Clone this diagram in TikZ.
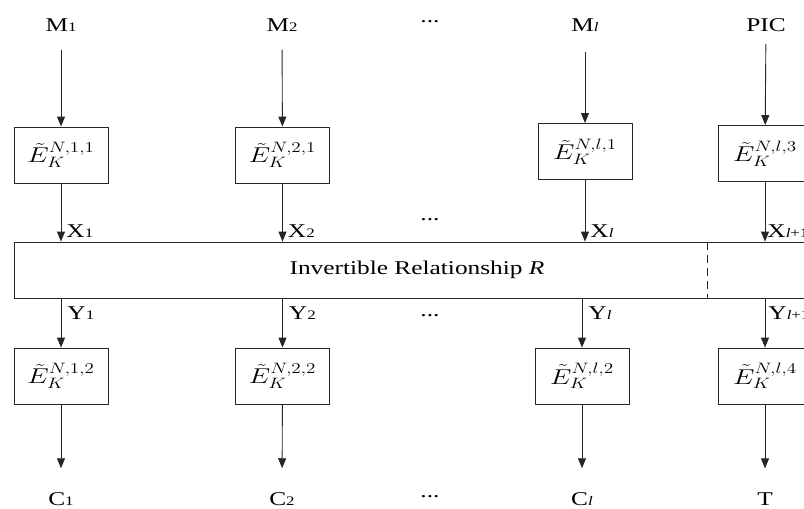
\documentclass[tikz,border=0pt]{standalone}
\usepackage{fix-cm}
\usepackage{fontspec}
\setmainfont[FakeStretch=1.3]{Liberation Serif}
\usetikzlibrary{arrows.meta,positioning,calc}

\newcommand{\sbs}[1]{{\fontsize{13}{13}\selectfont #1}}
\newcommand{\enc}[1]{\scalebox{1.4}[1.1]{$\tilde{E}_K^{N,#1}$}}

\tikzset{
  encbox/.style={draw=black!85, line width=0.9pt, minimum width=94pt, minimum height=56pt, inner sep=0pt},
  flow/.style={draw=black!85, line width=0.9pt, -{Triangle[width=8pt,length=10pt]}},
  lbl/.style={inner sep=0pt},
  xlbl/.style={inner sep=0pt, anchor=south west, xshift=5pt, yshift=4pt},
  ylbl/.style={inner sep=0pt, anchor=north west, xshift=6pt, yshift=-8pt},
}

\begin{document}
\begin{tikzpicture}[x=1pt,y=-1pt, font=\fontsize{19.5}{23}\selectfont]
  \clip (0,0) rectangle (804,509);

  % inputs
  \node[lbl] (m1) at (61,25) {M\sbs{1}};
  \node[lbl] (m2) at (282,25) {M\sbs{2}};
  \node[lbl] (mdots) at (430,22) {...};
  \node[lbl] (ml) at (585,25) {M\sbs{\textit{l}}};
  \node[lbl] (pic) at (766,25) {PIC};

  % first encryption layer
  \node[encbox] (e11) at (61,155) {\enc{1,1}};
  \node[encbox] (e21) at (282.5,155) {\enc{2,1}};
  \node[encbox] (el1) at (585,151.5) {\enc{l,1}};
  \node[encbox] (el3) at (765,153.5) {\enc{l,3}};

  % invertible relationship
  \node[draw=black!85, line width=0.9pt, minimum width=806pt, minimum height=56pt] (rel) at (417,270) {Invertible Relationship \textit{R}};
  \coordinate (split) at (707,270);
  \draw[black!85, line width=0.9pt, dash pattern=on 8pt off 5pt] (rel.north -| split) -- (rel.south -| split);

  % second encryption layer
  \node[encbox] (e12) at (61,376) {\enc{1,2}};
  \node[encbox] (e22) at (282.5,376) {\enc{2,2}};
  \node[encbox] (el2) at (582,376) {\enc{l,2}};
  \node[encbox] (el4) at (765,376) {\enc{l,4}};

  % outputs
  \node[lbl] (c1) at (61,499) {C\sbs{1}};
  \node[lbl] (c2) at (282,499) {C\sbs{2}};
  \node[lbl] (cdots) at (430,497) {...};
  \node[lbl] (cl) at (582,499) {C\sbs{\textit{l}}};
  \node[lbl] (tag) at (765,499) {T};

  \node[lbl] (xdots) at (430,220) {...};
  \node[lbl] (ydots) at (430,316) {...};

  % top arrows
  \draw[flow, shorten <=18pt] (m1) -- (e11);
  \draw[flow, shorten <=18pt] (m2) -- (e21);
  \draw[flow, shorten <=20pt] (ml) -- (el1);
  \draw[flow, shorten <=12pt] (pic) -- (el3);

  \draw[flow] (e11) -- (e11 |- rel.north) node[xlbl] {X\sbs{1}};
  \draw[flow] (e21) -- (e21 |- rel.north) node[xlbl] {X\sbs{2}};
  \draw[flow] (el1) -- (el1 |- rel.north) node[xlbl] {X\sbs{\textit{l}}};
  \draw[flow] (el3) -- (el3 |- rel.north) node[xlbl, xshift=-3pt] {X\sbs{\textit{l}+1}};

  % bottom arrows
  \draw[flow] (rel.south -| e12) node[ylbl] {Y\sbs{1}} -- (e12);
  \draw[flow] (rel.south -| e22) node[ylbl] {Y\sbs{2}} -- (e22);
  \draw[flow] (rel.south -| el2) node[ylbl] {Y\sbs{\textit{l}}} -- (el2);
  \draw[flow] (rel.south -| el4) node[ylbl, xshift=-3pt] {Y\sbs{\textit{l}+1}} -- (el4);

  \draw[flow, shorten >=24pt] (e12) -- (c1);
  \draw[flow, shorten >=24pt] (e22) -- (c2);
  \draw[flow, shorten >=24pt] (el2) -- (cl);
  \draw[flow, shorten >=24pt] (el4) -- (tag);
\end{tikzpicture}
\end{document}
